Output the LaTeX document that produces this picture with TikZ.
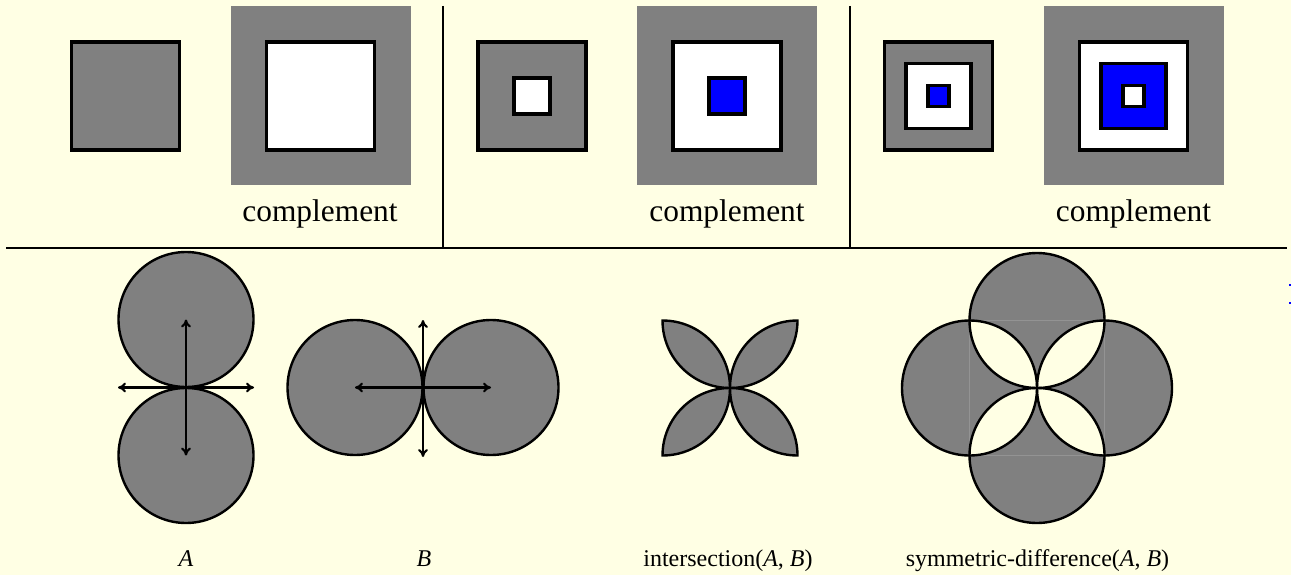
\documentclass[tikz,border=0pt]{standalone}
\usepackage{fontspec}
\setmainfont{Liberation Serif}
\usetikzlibrary{arrows.meta,calc}
\definecolor{bg}{HTML}{FFFFE4}
\definecolor{sqgray}{HTML}{808080}
\definecolor{sqblue}{HTML}{0000FF}
\newcommand\sqbox[3]{\filldraw[sq,fill=#3] ({#1-#2},{-96-#2}) rectangle ({#1+#2},{-96+#2});}
\newcommand\compbg[1]{\fill[sqgray] ({#1-90},-6) rectangle ({#1+90},-185);}
\def\R{67.5}
\begin{document}
\begin{tikzpicture}[x=1pt,y=1pt,
  sq/.style={draw=black,line width=3.4pt},
  divider/.style={draw=black,line width=2.5pt},
  disc/.style={draw=black,fill=sqgray,line width=2.4pt},
  ring/.style={draw=black,line width=2.4pt},
  dbl/.style={draw=black,line width=2.1pt,{To[length=8pt,width=10pt]}-{To[length=8pt,width=10pt]}},
  biglab/.style={anchor=base,inner sep=0pt,font=\fontsize{31.4}{36}\selectfont},
  lab/.style={anchor=base,inner sep=0pt,font=\fontsize{24}{28}\selectfont}]
\useasboundingbox (0,0) rectangle (1291,-575);
\fill[bg] (0,0) rectangle (1291,-575);
% ---------- top panels ----------
% panel 1
\sqbox{125.5}{54}{sqgray}
\compbg{320.5}
\sqbox{320.5}{54}{white}
\node[biglab] (c1) at (320,-222) {complement};
% panel 2
\sqbox{532}{54}{sqgray}
\sqbox{532}{18}{white}
\compbg{727}
\sqbox{727}{54}{white}
\sqbox{727}{18}{sqblue}
\node[biglab] (c2) at (727,-222) {complement};
% panel 3
\sqbox{938.5}{54}{sqgray}
\sqbox{938.5}{32.5}{white}
\sqbox{938.5}{10.5}{sqblue}
\compbg{1133.5}
\sqbox{1133.5}{54}{white}
\sqbox{1133.5}{32.5}{sqblue}
\sqbox{1133.5}{10.5}{white}
\node[biglab] (c3) at (1133.5,-222) {complement};
% dividers
\coordinate (hl) at (6,-248);
\coordinate (hr) at (1287,-248);
\coordinate (v1t) at (443,-6);
\coordinate (v1b) at (443,-248);
\coordinate (v2t) at (850,-6);
\coordinate (v2b) at (850,-248);
\draw[divider] (hl) -- (hr);
\draw[divider] (v1t) -- (v1b);
\draw[divider] (v2t) -- (v2b);
% ---------- A ----------
\coordinate (aT) at (186,-319.5);
\coordinate (aB) at (186,-455.5);
\coordinate (aL) at (118,-387.5);
\coordinate (aR) at (254,-387.5);
\filldraw[disc] (aT) circle[radius=\R];
\filldraw[disc] (aB) circle[radius=\R];
\draw[dbl] (aT) -- (aB);
\draw[dbl] (aL) -- (aR);
\node[lab] (la) at (186,-566) {\textit{A}};
% ---------- B ----------
\coordinate (bL) at (355,-387.5);
\coordinate (bR) at (491,-387.5);
\coordinate (bT) at (423,-320);
\coordinate (bB) at (423,-457);
\filldraw[disc] (bL) circle[radius=\R];
\filldraw[disc] (bR) circle[radius=\R];
\draw[dbl] (bL) -- (bR);
\draw[dbl] (bT) -- (bB);
\node[lab] (lb) at (424,-566) {\textit{B}};
% ---------- intersection ----------
\coordinate (iO) at (730,-388);
\filldraw[disc] (iO) arc[start angle=270,end angle=180,radius=\R] arc[start angle=90,end angle=0,radius=\R] -- cycle;
\filldraw[disc] (iO) arc[start angle=270,end angle=360,radius=\R] arc[start angle=90,end angle=180,radius=\R] -- cycle;
\filldraw[disc] (iO) arc[start angle=90,end angle=180,radius=\R] arc[start angle=270,end angle=360,radius=\R] -- cycle;
\filldraw[disc] (iO) arc[start angle=90,end angle=0,radius=\R] arc[start angle=270,end angle=180,radius=\R] -- cycle;
\node[lab] (li) at (728,-566) {intersection(\textit{A}, \textit{B})};
% ---------- symmetric difference ----------
\coordinate (sO) at (1037,-388);
\coordinate (sT) at (1037,-320.5);
\coordinate (sB) at (1037,-455.5);
\coordinate (sL) at (969.5,-388);
\coordinate (sR) at (1104.5,-388);
\fill[sqgray] (sT) circle[radius=\R] (sB) circle[radius=\R] (sL) circle[radius=\R] (sR) circle[radius=\R];
\draw[sqgray!85!white,line width=0.5pt] (969.5,-320.5) rectangle (1104.5,-455.5);
\fill[bg] (sO) arc[start angle=270,end angle=180,radius=\R] arc[start angle=90,end angle=0,radius=\R] -- cycle;
\fill[bg] (sO) arc[start angle=270,end angle=360,radius=\R] arc[start angle=90,end angle=180,radius=\R] -- cycle;
\fill[bg] (sO) arc[start angle=90,end angle=180,radius=\R] arc[start angle=270,end angle=360,radius=\R] -- cycle;
\fill[bg] (sO) arc[start angle=90,end angle=0,radius=\R] arc[start angle=270,end angle=180,radius=\R] -- cycle;
\draw[ring] (sT) circle[radius=\R];
\draw[ring] (sB) circle[radius=\R];
\draw[ring] (sL) circle[radius=\R];
\draw[ring] (sR) circle[radius=\R];
\node[lab] (ls) at (1037.5,-566) {symmetric-difference(\textit{A}, \textit{B})};
% ---------- stray blue marks at right edge ----------
\fill[sqblue] (1288.5,-284) rectangle (1290.5,-286);
\fill[sqblue] (1288.5,-301.5) rectangle (1290.5,-303.5);
\end{tikzpicture}
\end{document}
